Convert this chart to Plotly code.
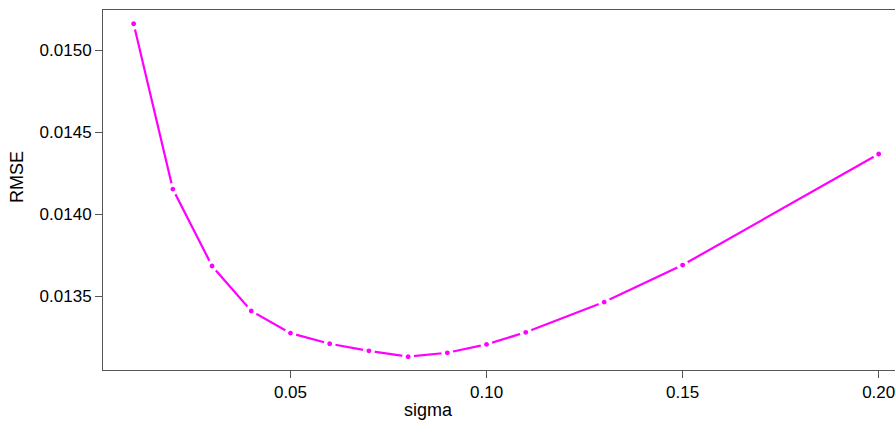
import plotly.graph_objects as go

# RMSE as a function of the kernel width sigma
sigma = [0.01, 0.02, 0.03, 0.04, 0.05, 0.06, 0.07, 0.08, 0.09, 0.10, 0.11, 0.13, 0.15, 0.20]
rmse = [0.015160, 0.014152, 0.013683, 0.013409, 0.013274, 0.013209, 0.013166,
        0.013130, 0.013154, 0.013205, 0.013279, 0.013463, 0.013689, 0.014366]

x_ticks = [0.05, 0.10, 0.15, 0.20]
y_ticks = [0.0135, 0.0140, 0.0145, 0.0150]

FONT = "Arial, Liberation Sans, sans-serif"
AXIS_COLOR = "#555555"

fig = go.Figure()
# lines broken around each point (white marker outline opens the gap)
fig.add_trace(go.Scatter(
    x=sigma, y=rmse,
    mode="lines+markers",
    line=dict(color="#ff00ff", width=2.2),
    marker=dict(color="#ff00ff", size=8.4, line=dict(color="white", width=3.6)),
    showlegend=False,
))

fig.update_layout(
    width=895, height=421,
    margin=dict(l=103, r=0, t=10, b=51),
    paper_bgcolor="white",
    plot_bgcolor="white",
    font=dict(family=FONT, size=17, color="black"),
    xaxis=dict(
        range=[0.00219, 0.20416],
        tickvals=x_ticks,
        ticktext=[f"{v:.2f}" for v in x_ticks],
        ticks="outside", ticklen=7, tickcolor=AXIS_COLOR, tickwidth=1,
        ticklabeloverflow="allow",
        showline=True, linecolor=AXIS_COLOR, linewidth=1, mirror=True,
        showgrid=False, zeroline=False,
    ),
    yaxis=dict(
        range=[0.013049, 0.0152439],
        tickvals=y_ticks,
        ticktext=[f"{v:.4f}" for v in y_ticks],
        ticks="outside", ticklen=7, tickcolor=AXIS_COLOR, tickwidth=1,
        showline=True, linecolor=AXIS_COLOR, linewidth=1,
        showgrid=False, zeroline=False,
    ),
    annotations=[
        dict(text="sigma", xref="paper", yref="paper",
             x=(428 - 103) / (895 - 103), y=-(410 - 370) / 360,
             xanchor="center", yanchor="middle", showarrow=False,
             font=dict(family=FONT, size=18, color="black")),
        dict(text="RMSE", xref="paper", yref="paper",
             x=-(103 - 17) / (895 - 103), y=(370 - 177) / 360,
             xanchor="center", yanchor="middle", textangle=-90, showarrow=False,
             font=dict(family=FONT, size=18, color="black")),
    ],
)

fig.write_html("out.html")
